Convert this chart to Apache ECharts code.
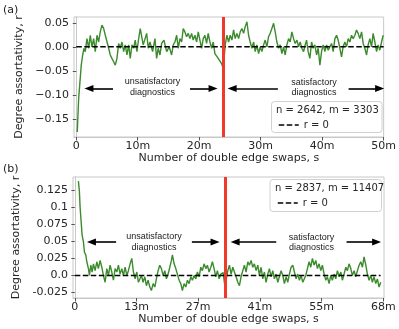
<!DOCTYPE html>
<html>
<head>
<meta charset="utf-8">
<script src="https://cdn.jsdelivr.net/npm/echarts@6/dist/echarts.min.js"></script>
<style>
  html, body { margin: 0; padding: 0; background: #fff; }
  #chart { width: 399px; height: 329px; }
</style>
</head>
<body>
<div id="chart"></div>
<script>
// panel (a): n = 2642, m = 3303 (x in millions of swaps)
const aSwaps = [0.16,0.39,0.60,0.81,1.04,1.25,1.46,1.74,2.02,2.28,2.55,2.83,3.09,3.37,3.64,3.90,4.18,4.46,4.72,4.99,
  5.27,5.53,5.80,6.08,6.34,6.62,6.89,7.15,7.43,7.71,7.97,8.24,8.52,8.78,9.06,9.33,9.59,9.87,10.15,10.41,
  10.89,11.45,11.71,11.98,12.42,12.80,13.07,13.33,13.61,13.89,14.26,14.70,15.12,15.51,15.77,16.05,16.33,16.59,16.86,17.14,
  17.40,17.67,17.95,18.21,18.49,18.76,19.02,19.30,19.58,19.84,20.11,20.39,20.65,20.93,21.20,21.46,21.74,22.02,22.28,22.55,
  22.83,23.09,23.37,23.64,23.90,24.23,24.50,24.78,25.04,25.32,25.59,25.85,26.13,26.41,26.67,26.94,27.22,27.48,27.76,28.03,
  28.29,28.57,28.85,29.11,29.38,29.66,29.92,30.20,30.47,30.73,31.01,31.28,31.54,31.82,32.10,32.36,32.63,32.91,33.17,33.45,
  33.72,33.98,34.26,34.54,34.80,35.07,35.35,35.61,35.89,36.16,36.42,36.70,36.98,37.24,37.46,37.72,38.00,38.28,38.54,38.81,
  39.09,39.35,39.63,39.90,40.16,40.44,40.72,40.98,41.25,41.53,41.79,42.07,42.34,42.60,42.88,43.15,43.41,43.69,43.97,44.23,
  44.50,44.78,45.04,45.32,45.59,45.85,46.13,46.41,46.67,46.94,47.22,47.48,47.76,48.03,48.29,48.57,48.85,49.11,49.38,49.66,49.92];
const aR = [-0.177,-0.107,-0.073,-0.038,-0.017,-0.003,-0.010,0.017,-0.003,0.024,0.000,0.017,-0.010,0.024,0.010,0.031,0.045,0.038,0.024,0.028,
  -0.003,-0.017,-0.024,-0.031,-0.038,-0.024,0.007,-0.003,0.010,-0.010,0.004,-0.017,0.004,-0.024,0.004,-0.003,0.014,-0.010,0.017,0.038,
  0.004,0.028,-0.003,0.010,-0.010,0.017,-0.024,-0.003,-0.017,0.007,0.014,-0.010,0.000,-0.017,0.004,0.010,0.024,-0.003,0.017,0.010,
  0.038,0.031,0.021,0.028,0.017,0.028,0.014,0.024,0.010,0.031,0.014,-0.003,0.017,0.024,0.007,0.028,0.010,-0.003,0.010,-0.014,
  -0.010,-0.024,-0.021,-0.035,-0.045,0.004,0.024,0.010,0.024,0.014,0.035,0.017,0.028,0.017,0.031,0.038,0.028,0.042,0.052,0.024,
  0.010,-0.003,0.010,-0.010,0.004,-0.014,0.000,-0.010,0.004,0.014,0.000,0.021,0.028,0.038,0.049,0.031,0.010,-0.003,0.004,-0.014,
  0.000,-0.017,0.004,0.017,0.010,0.031,0.017,0.007,0.014,0.000,0.010,-0.003,-0.010,0.004,0.014,-0.010,-0.024,0.010,-0.003,0.004,
  -0.017,-0.003,-0.038,-0.010,0.004,-0.010,0.004,-0.007,0.000,0.007,-0.010,0.017,0.024,0.014,-0.003,-0.021,0.000,0.010,0.000,0.017,
  0.010,0.024,0.017,0.024,0.035,0.028,0.017,0.031,0.007,-0.003,-0.017,0.004,0.017,0.000,0.028,0.010,-0.010,0.004,-0.007,0.010,0.024];

// panel (b): n = 2837, m = 11407
const bSwaps = [0.79,1.01,1.17,1.39,1.61,1.90,2.12,2.42,2.64,3.00,3.22,3.53,3.81,4.10,4.47,4.85,5.20,5.58,5.95,6.30,
  6.68,7.05,7.41,7.78,8.15,8.51,8.88,9.26,9.61,9.98,10.36,10.71,11.09,11.46,11.81,12.19,12.56,12.92,13.29,13.66,
  14.02,14.33,14.68,15.05,15.43,15.78,16.15,16.53,16.88,17.26,17.63,17.98,18.36,18.73,19.09,19.46,19.84,20.19,20.56,20.94,
  21.29,21.51,21.89,22.26,22.61,22.99,23.36,23.71,24.09,24.46,24.82,25.19,25.57,25.92,26.29,26.67,27.02,27.40,27.77,28.12,
  28.50,28.87,29.22,29.60,29.97,30.33,30.70,31.08,31.43,31.80,32.18,32.70,33.00,33.35,33.72,34.07,34.45,34.82,35.18,35.55,
  35.93,36.28,36.65,37.03,37.38,37.75,38.13,38.48,38.86,39.23,39.58,39.96,40.33,40.69,41.06,41.43,41.79,42.16,42.54,42.89,
  43.26,43.64,43.99,44.37,44.74,45.09,45.47,45.84,46.20,46.57,46.94,47.30,47.67,48.05,48.40,48.77,49.15,49.50,49.88,50.25,
  50.91,51.27,51.64,52.01,52.37,52.74,53.12,53.47,53.84,54.22,54.57,54.95,55.32,55.67,56.05,56.42,56.77,57.15,57.52,57.88,
  58.25,58.63,58.98,59.35,59.73,60.08,60.45,60.83,61.18,61.56,61.93,62.29,62.66,63.03,63.39,63.76,64.14,64.49,64.86,65.24,
  65.59,65.96,66.34,66.69,67.07,67.44];
const bR = [0.138,0.123,0.099,0.079,0.059,0.049,0.034,0.030,0.020,0.010,0.000,0.015,0.005,0.017,0.007,0.020,0.010,0.022,0.012,0.000,
  -0.010,0.010,0.000,0.015,0.005,-0.007,0.010,0.005,0.015,0.002,0.010,0.000,0.012,0.000,0.007,0.017,0.025,0.005,-0.005,0.005,
  -0.010,-0.012,0.000,-0.010,-0.002,-0.015,-0.007,-0.017,-0.022,-0.012,-0.017,-0.005,0.007,0.015,0.010,0.000,0.007,-0.005,0.002,0.012,
  0.022,0.030,0.017,0.010,0.002,-0.007,-0.012,-0.022,-0.012,-0.017,-0.007,-0.012,-0.002,-0.007,0.000,-0.005,0.005,-0.002,0.012,0.007,
  0.017,0.010,0.015,0.005,0.012,0.020,0.010,-0.002,0.007,-0.005,0.002,0.004,-0.012,-0.007,0.007,0.015,0.002,0.012,0.005,-0.002,
  -0.010,-0.015,-0.002,0.007,0.015,0.005,0.020,0.015,0.022,0.012,0.017,0.007,0.015,0.000,0.012,-0.005,0.005,-0.010,0.002,0.010,
  -0.002,0.007,-0.005,0.002,-0.010,-0.002,0.007,0.000,-0.012,-0.002,-0.010,0.002,0.012,0.015,0.005,-0.005,0.002,-0.007,0.000,-0.010,
  0.000,0.010,0.020,0.012,0.025,0.015,0.022,0.010,0.017,0.007,0.015,0.002,-0.007,-0.002,-0.012,0.000,-0.007,0.002,-0.005,0.007,
  -0.002,0.005,-0.007,0.002,0.012,0.007,0.017,0.010,0.000,0.007,-0.002,0.007,0.015,0.020,0.012,0.027,0.015,0.002,-0.007,0.000,
  -0.010,-0.002,-0.012,-0.005,-0.017,-0.010];

// ticks
const aTicksX = [0, 10, 20, 30, 40, 50];
const aLabelsX = ['0', '10m', '20m', '30m', '40m', '50m'];
const aTicksY = [-0.15, -0.10, -0.05, 0, 0.05];
const aLabelsY = ['\u22120.15', '\u22120.10', '\u22120.05', '0.00', '0.05'];
const bTicksX = [0, 13.6, 27.2, 40.8, 54.4, 68];
const bLabelsX = ['0', '13m', '27m', '41m', '55m', '68m'];
const bTicksY = [-0.025, 0, 0.025, 0.05, 0.075, 0.1, 0.125];
const bLabelsY = ['-0.025', '0.0', '0.025', '0.05', '0.075', '0.1', '0.125'];

// annotations (data coordinates)
const aCut = 23.9;
const bCut = 33.1;
const aZeroSpan = [0, 50];
const bZeroSpan = [0, 67.4];
const aArrowY = -0.0867;
const bArrowY = 0.049;
const aArrows = [[5.97, 2.06], [18.5, 22.25], [32.8, 25.35], [44.3, 49.35]];
const bArrows = [[9.1, 3.66], [25.8, 30.92], [44.4, 35.33], [59.9, 66.52]];
const aNotes = [[12.39, -0.0835, 'unsatisfactory\ndiagnostics'], [38.68, -0.085, 'satisfactory\ndiagnostics']];
const bNotes = [[17.43, 0.0488, 'unsatisfactory\ndiagnostics'], [52.15, 0.0484, 'satisfactory\ndiagnostics']];
const aInfo = 'n = 2642, m = 3303';
const bInfo = 'n = 2837, m = 11407';

const FONT = 'DejaVu Sans';
const GREEN = '#3b8b2c';

function pick(ticks, labels) {
  return v => {
    const i = ticks.findIndex(t => Math.abs(t - v) < 1e-9);
    return i < 0 ? '' : labels[i];
  };
}

function xAxis(grid, min, max, ticks, labels) {
  return {
    type: 'value', gridIndex: grid, min: min, max: max,
    name: 'Number of double edge swaps, s', nameLocation: 'middle', nameGap: 16,
    nameTextStyle: { fontFamily: FONT, fontSize: 11, color: '#262626' },
    axisLine: { show: true, onZero: false, lineStyle: { color: '#c8c8c8', width: 1 } },
    axisTick: { show: true, customValues: ticks, length: 3.5, lineStyle: { color: '#555' } },
    axisLabel: { customValues: ticks, formatter: pick(ticks, labels), margin: 4,
      fontFamily: FONT, fontSize: 11, color: '#262626' },
    splitLine: { show: false }
  };
}

function yAxis(grid, min, max, ticks, labels, gap) {
  return {
    type: 'value', gridIndex: grid, min: min, max: max,
    name: 'Degree assortativity, r', nameLocation: 'middle', nameGap: gap,
    nameTextStyle: { fontFamily: FONT, fontSize: 11, color: '#262626' },
    axisLine: { show: true, lineStyle: { color: '#c8c8c8', width: 1 } },
    axisTick: { show: true, customValues: ticks, length: 3.5, lineStyle: { color: '#555' } },
    axisLabel: { customValues: ticks, formatter: pick(ticks, labels), margin: 5,
      fontFamily: FONT, fontSize: 11, color: '#262626' },
    splitLine: { show: false }
  };
}

function panelSeries(idx, xs, ys, zeroSpan, cut, arrows, arrowY, notes, info) {
  return [
    {
      type: 'line', name: 'green' + idx, xAxisIndex: idx, yAxisIndex: idx,
      data: xs.map((x, i) => [x, ys[i]]),
      showSymbol: false, symbol: 'none', z: 2,
      lineStyle: { color: GREEN, width: 1.4 }
    },
    {
      type: 'line', name: 'r = 0', xAxisIndex: idx, yAxisIndex: idx,
      data: zeroSpan.map(x => [x, 0]),
      showSymbol: false, symbol: 'none', z: 3,
      lineStyle: { color: '#000', width: 1.5, type: [5.5, 2.5] },
      itemStyle: { color: '#000' }
    },
    {
      type: 'line', name: info, xAxisIndex: idx, yAxisIndex: idx,
      data: [], symbol: 'none', z: 4,
      markLine: {
        silent: true, symbol: 'none', animation: false,
        label: { show: false },
        lineStyle: { color: '#f0392b', width: 3, type: 'solid' },
        data: [{ xAxis: cut }]
      }
    },
    {
      type: 'line', name: 'notes' + idx, xAxisIndex: idx, yAxisIndex: idx,
      data: [], symbol: 'none', z: 5,
      markLine: {
        silent: true, symbol: ['none', 'triangle'], symbolSize: [7, 9], animation: false,
        label: { show: false },
        itemStyle: { color: '#000' },
        lineStyle: { color: '#000', width: 1.6, type: 'solid' },
        data: arrows.map(a => [{ coord: [a[0], arrowY] }, { coord: [a[1], arrowY] }])
      },
      markPoint: {
        silent: true, symbol: 'circle', symbolSize: 0, animation: false,
        label: { show: true, position: 'inside', formatter: '{b}', fontFamily: 'Liberation Sans',
          fontSize: 9, lineHeight: 10.5, color: '#222' },
        data: notes.map(n => ({ coord: [n[0], n[1]], name: n[2] }))
      }
    }
  ];
}

function legends(info, left, top) {
  return [
    {
      data: [{ name: info, icon: 'none' }], left: left - 5, top: top, padding: 0,
      itemWidth: 0, itemHeight: 10, selectedMode: false,
      textStyle: { fontFamily: FONT, fontSize: 10, color: '#262626' }
    },
    {
      data: ['r = 0'], left: left + 2, top: top + 15, padding: 0,
      itemWidth: 20, itemHeight: 10, selectedMode: false,
      itemStyle: { color: 'rgba(0,0,0,0)', opacity: 0, borderWidth: 0 },
      lineStyle: { color: '#000', width: 1.5, type: [5.5, 2.5] },
      textStyle: { fontFamily: FONT, fontSize: 10, color: '#262626' }
    }
  ];
}

const chart = echarts.init(document.getElementById('chart'), null, { renderer: 'canvas' });
chart.setOption({
  animation: false,
  backgroundColor: '#fff',
  grid: [
    { left: 74, top: 17, width: 310, height: 120, show: true, borderColor: '#c8c8c8', borderWidth: 1 },
    { left: 73, top: 177, width: 311, height: 121, show: true, borderColor: '#c8c8c8', borderWidth: 1 }
  ],
  xAxis: [
    xAxis(0, -0.37, 50.0, aTicksX, aLabelsX),
    xAxis(1, -0.4, 68.15, bTicksX, bLabelsX)
  ],
  yAxis: [
    yAxis(0, -0.1875, 0.062, aTicksY, aLabelsY, 41),
    yAxis(1, -0.033, 0.144, bTicksY, bLabelsY, 40)
  ],
  legend: legends(aInfo, 276, 105).concat(legends(bInfo, 275, 183)),
  graphic: [
    { type: 'text', left: 3, top: 5, style: { text: '(a)', font: '11px "DejaVu Sans"', fill: '#222' } },
    { type: 'text', left: 3, top: 164, style: { text: '(b)', font: '11px "DejaVu Sans"', fill: '#222' } },
    { type: 'rect', shape: { x: 271.5, y: 101.5, width: 110.5, height: 31, r: 3 }, z: 1,
      style: { fill: 'rgba(255,255,255,0.85)', stroke: '#d0d0d0', lineWidth: 1 } },
    { type: 'rect', shape: { x: 270, y: 179.5, width: 111.5, height: 32, r: 3 }, z: 1,
      style: { fill: 'rgba(255,255,255,0.85)', stroke: '#d0d0d0', lineWidth: 1 } }
  ],
  series: panelSeries(0, aSwaps, aR, aZeroSpan, aCut, aArrows, aArrowY, aNotes, aInfo)
    .concat(panelSeries(1, bSwaps, bR, bZeroSpan, bCut, bArrows, bArrowY, bNotes, bInfo))
});
</script>
</body>
</html>
